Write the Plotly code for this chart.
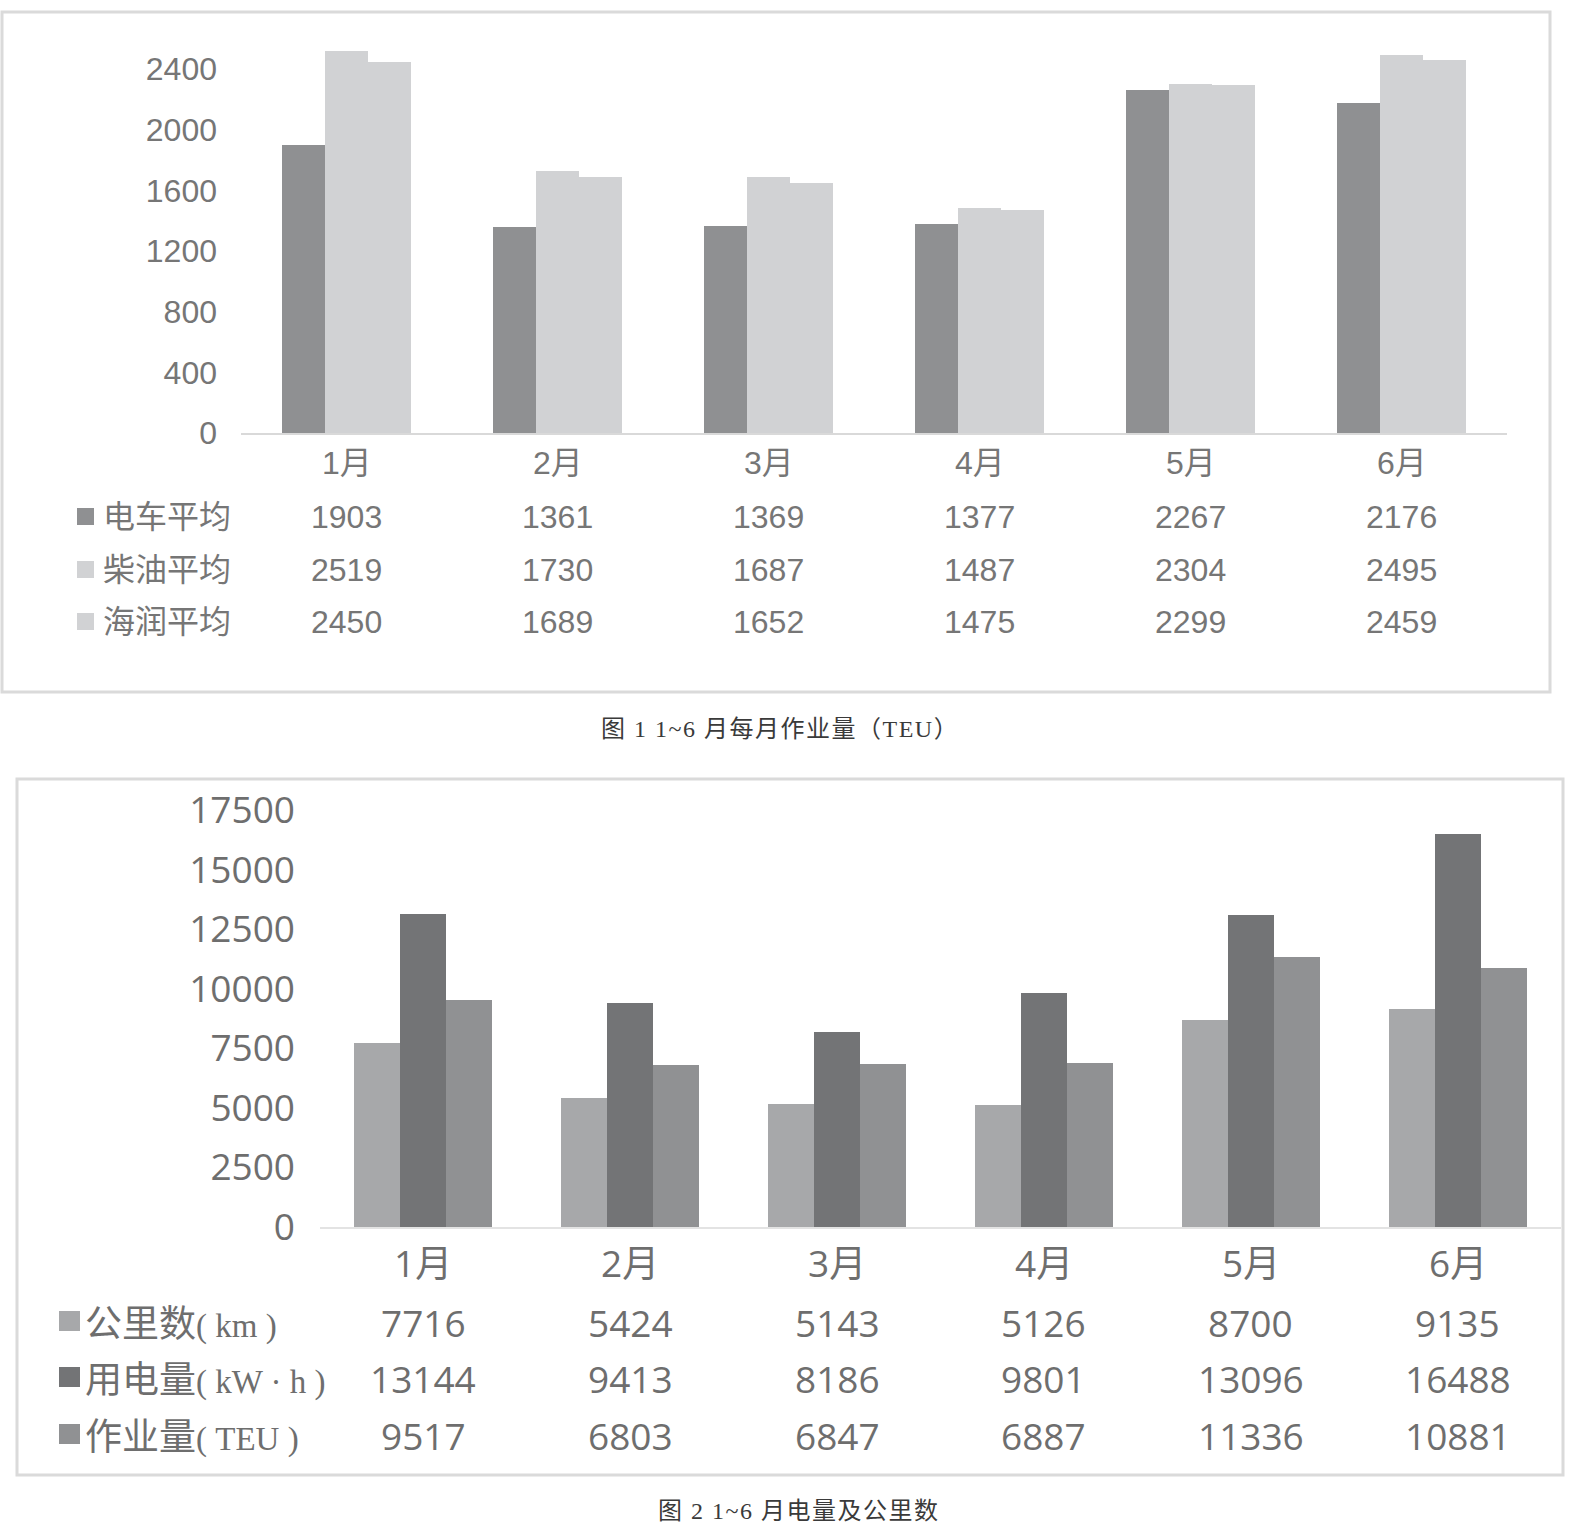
import plotly.graph_objects as go

# ---------------- data ----------------
months = ["1月", "2月", "3月", "4月", "5月", "6月"]

# chart 1: 1~6 月每月作业量 (TEU)
ev_avg = [1903, 1361, 1369, 1377, 2267, 2176]
diesel_avg = [2519, 1730, 1687, 1487, 2304, 2495]
hairun_avg = [2450, 1689, 1652, 1475, 2299, 2459]
c1_names = ["电车平均", "柴油平均", "海润平均"]
c1_ticks = [0, 400, 800, 1200, 1600, 2000, 2400]

# chart 2: 1~6 月电量及公里数
km = [7716, 5424, 5143, 5126, 8700, 9135]
kwh = [13144, 9413, 8186, 9801, 13096, 16488]
teu = [9517, 6803, 6847, 6887, 11336, 10881]
c2_names = ["公里数", "用电量", "作业量"]
c2_units = ["( km )", "( kW · h )", "( TEU )"]
c2_ticks = [0, 2500, 5000, 7500, 10000, 12500, 15000, 17500]

caption1 = "图 1 1~6 月每月作业量（TEU）"
caption2 = "图 2 1~6 月电量及公里数"

# ---------------- styling ----------------
W, H = 1578, 1536


def fx(p):
    return p / W


def fy(p):
    return 1 - p / H


c1_colors = ["#8f9092", "#d1d2d4", "#d1d2d4"]
c2_colors = ["#a7a8aa", "#737476", "#909193"]
c1_font = dict(family="Liberation Sans, Arial, Noto Sans CJK SC", size=32, color="#767676")
c2_font_tick = dict(family="Open Sans, Noto Sans CJK SC", size=37, color="#6e6e6e")
c2_font_tab = dict(family="Open Sans, Noto Sans CJK SC", size=37, color="#6e6e6e")
cap_font = dict(family="Liberation Serif, Noto Sans CJK SC", size=24, color="#3a3a3a")

fig = go.Figure()

c1_series = [ev_avg, diesel_avg, hairun_avg]
g1 = 0.614
w1 = g1 / 3
for i, (name, vals) in enumerate(zip(c1_names, c1_series)):
    fig.add_trace(go.Bar(x=months, y=vals, name=name, xaxis="x", yaxis="y",
                         width=w1, offset=-g1 / 2 + i * w1,
                         marker=dict(color=c1_colors[i], line=dict(width=0)),
                         showlegend=False))

c2_series = [km, kwh, teu]
g2 = 0.667
w2 = g2 / 3
for i, (name, vals) in enumerate(zip(c2_names, c2_series)):
    fig.add_trace(go.Bar(x=months, y=vals, name=name, xaxis="x2", yaxis="y2",
                         width=w2, offset=-g2 / 2 + i * w2,
                         marker=dict(color=c2_colors[i], line=dict(width=0)),
                         showlegend=False))

y1_zero, y1_px_per = 433, 364 / 2400
y1_max = 2600
y2_zero, y2_top = 1227, 810

annotations = []
shapes = []

# chart 1 data table
c1_rows_y = [517, 570, 622]
for m in months:
    annotations.append(dict(x=m, xref="x", y=fy(463), yref="paper", text=m,
                            showarrow=False, font=c1_font, xanchor="center", yanchor="middle"))
for r, (name, vals) in enumerate(zip(c1_names, c1_series)):
    ry = c1_rows_y[r]
    for m, v in zip(months, vals):
        annotations.append(dict(x=m, xref="x", y=fy(ry), yref="paper", text=str(v),
                                showarrow=False, font=c1_font, xanchor="center", yanchor="middle"))
    annotations.append(dict(x=fx(101), xref="paper", y=fy(ry), yref="paper", text=name,
                            showarrow=False, font=c1_font, xanchor="left", yanchor="middle"))
    shapes.append(dict(type="rect", xref="paper", yref="paper",
                       x0=fx(77), x1=fx(94), y0=fy(ry + 8), y1=fy(ry - 9),
                       fillcolor=c1_colors[r], line=dict(width=0)))

# chart 2 data table
c2_rows_y = [1322, 1378, 1435]
for m in months:
    annotations.append(dict(x=m, xref="x2", y=fy(1262), yref="paper", text=m,
                            showarrow=False, font=c2_font_tab, xanchor="center", yanchor="middle"))
for r, (name, unit, vals) in enumerate(zip(c2_names, c2_units, c2_series)):
    ry = c2_rows_y[r]
    for m, v in zip(months, vals):
        annotations.append(dict(x=m, xref="x2", y=fy(ry), yref="paper", text=str(v),
                                showarrow=False, font=c2_font_tab, xanchor="center", yanchor="middle"))
    label = name + "<span style=\"font-family:'Liberation Serif';font-size:33px\">" + unit + "</span>"
    annotations.append(dict(x=fx(83), xref="paper", y=fy(ry), yref="paper", text=label,
                            showarrow=False, font=c2_font_tab, xanchor="left", yanchor="middle"))
    shapes.append(dict(type="rect", xref="paper", yref="paper",
                       x0=fx(59), x1=fx(80), y0=fy(ry + 9), y1=fy(ry - 11),
                       fillcolor=c2_colors[r], line=dict(width=0)))

# captions
annotations.append(dict(x=fx(780), xref="paper", y=fy(729), yref="paper",
                        text="<span style=\"letter-spacing:1.5px\">" + caption1 + "</span>",
                        showarrow=False, font=cap_font, xanchor="center", yanchor="middle"))
annotations.append(dict(x=fx(798), xref="paper", y=fy(1511), yref="paper",
                        text="<span style=\"letter-spacing:1.5px\">" + caption2 + "</span>",
                        showarrow=False, font=cap_font, xanchor="center", yanchor="middle"))

# chart frames
shapes.append(dict(type="rect", xref="paper", yref="paper", x0=fx(2), x1=fx(1550),
                   y0=fy(692), y1=fy(12), line=dict(color="#dadada", width=3),
                   fillcolor="rgba(0,0,0,0)", layer="below"))
shapes.append(dict(type="rect", xref="paper", yref="paper", x0=fx(17), x1=fx(1563),
                   y0=fy(1475), y1=fy(779), line=dict(color="#dadada", width=3),
                   fillcolor="rgba(0,0,0,0)", layer="below"))

fig.update_layout(
    template="none",
    width=W, height=H,
    margin=dict(l=0, r=0, t=0, b=0, pad=0, autoexpand=False),
    paper_bgcolor="white", plot_bgcolor="white",
    showlegend=False,
    xaxis=dict(domain=[fx(241), fx(1507)], anchor="y", type="category",
               categoryorder="array", categoryarray=months, range=[-0.5, 5.5],
               showticklabels=False, showline=True, linecolor="#d9d9d9", linewidth=2,
               showgrid=False, zeroline=False, ticks="", automargin=False),
    yaxis=dict(domain=[fy(y1_zero), fy(y1_zero - y1_max * y1_px_per)], anchor="x",
               range=[0, y1_max], tickmode="array", tickvals=c1_ticks,
               ticktext=[str(t) for t in c1_ticks], tickfont=c1_font,
               showgrid=False, zeroline=False, showline=False, ticks="",
               ticklabelstandoff=23, automargin=False),
    xaxis2=dict(domain=[fx(320), fx(1561)], anchor="y2", type="category",
                categoryorder="array", categoryarray=months, range=[-0.5, 5.5],
                showticklabels=False, showline=True, linecolor="#e3e3e3", linewidth=2,
                showgrid=False, zeroline=False, ticks="", automargin=False),
    yaxis2=dict(domain=[fy(y2_zero), fy(y2_top)], anchor="x2",
                range=[0, 17500], tickmode="array", tickvals=c2_ticks,
                ticktext=[str(t) for t in c2_ticks], tickfont=c2_font_tick,
                showgrid=False, zeroline=False, showline=False, ticks="",
                ticklabelstandoff=24, automargin=False),
    annotations=annotations,
    shapes=shapes,
    bargap=0,
)

fig.write_html("out.html", config={"displayModeBar": False},
               post_script="document.body.style.margin='0';document.body.style.overflow='hidden';")
